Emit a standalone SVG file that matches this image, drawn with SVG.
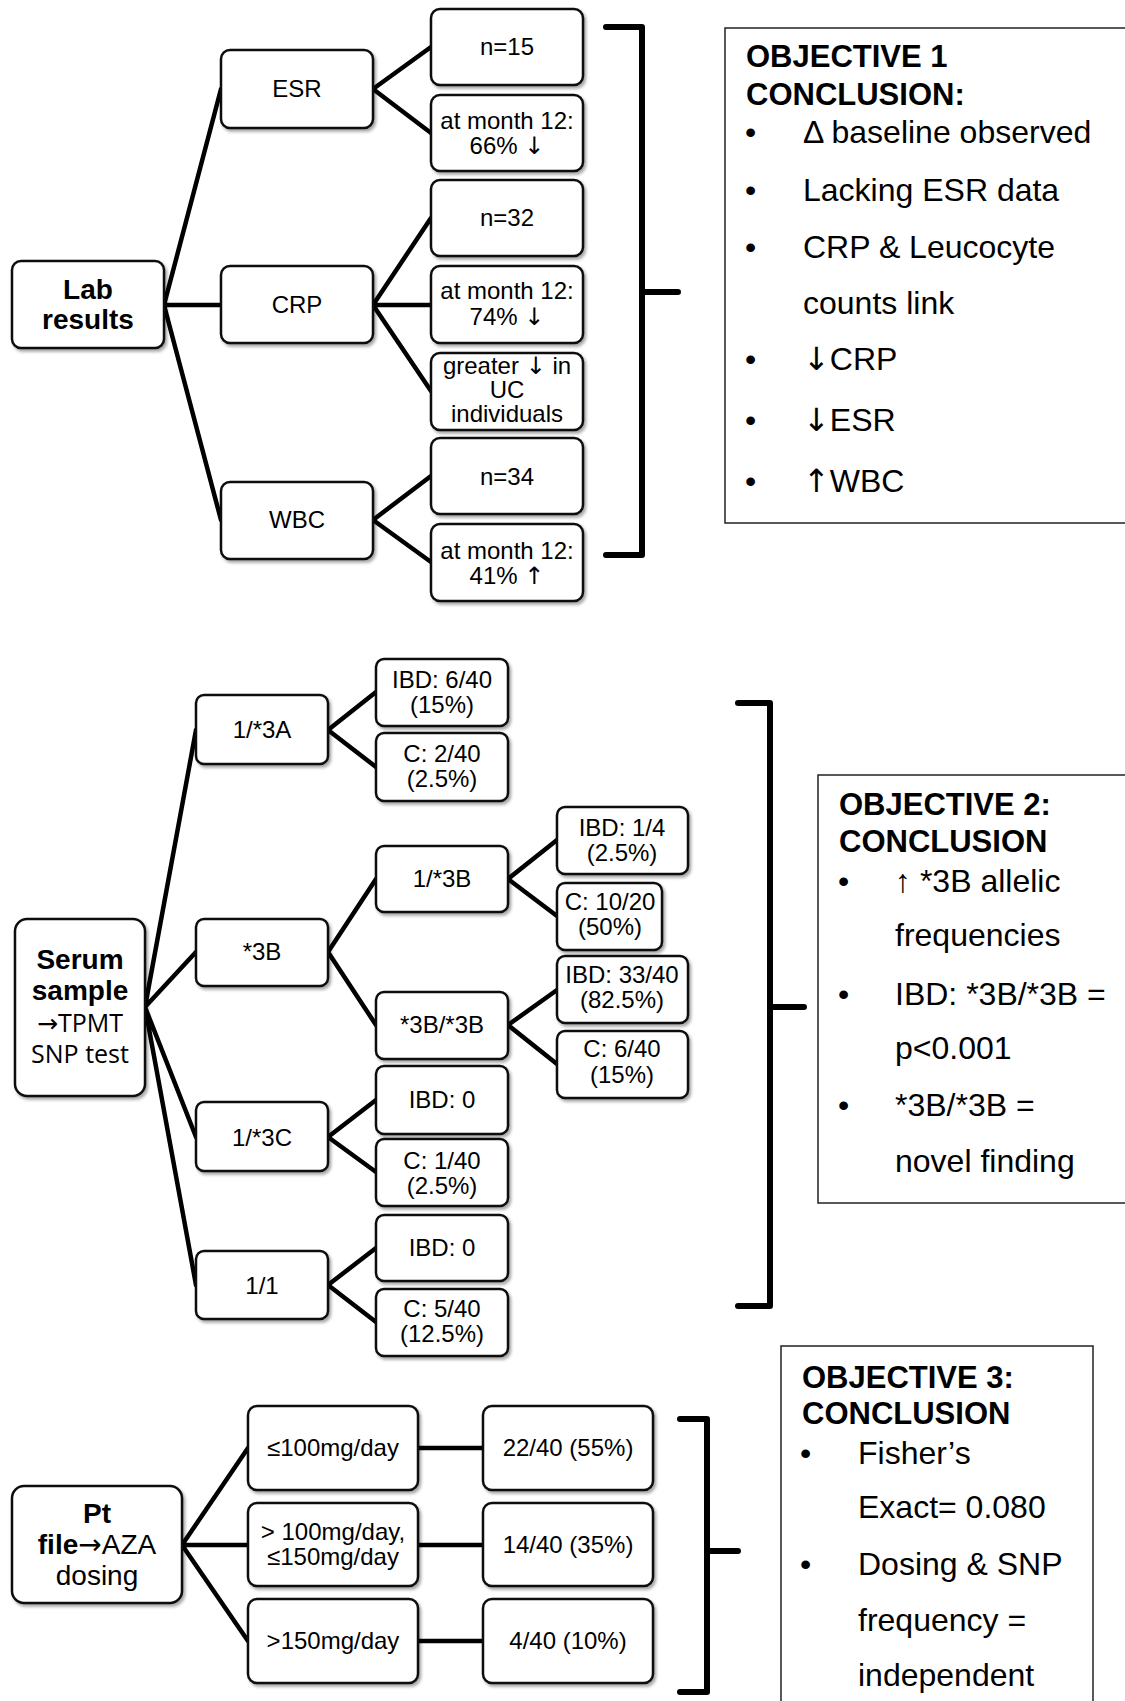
<svg xmlns="http://www.w3.org/2000/svg" width="1125" height="1701" viewBox="0 0 1125 1701">
<defs>
<filter id="sh" x="-10%" y="-10%" width="130%" height="130%">
<feDropShadow dx="2" dy="2.5" stdDeviation="1.5" flood-color="#000" flood-opacity="0.35"/>
</filter>
</defs>
<style>
.box{fill:#fff;stroke:#111;stroke-width:2.5;filter:url(#sh)}
.t{font-family:"Liberation Sans",Arial,sans-serif;font-size:24px;text-anchor:middle;fill:#000}
.b{font-weight:bold;font-size:28px}
.n{font-family:"Open Sans","Liberation Sans",sans-serif;font-size:25px}
.ar{font-family:"DejaVu Sans",sans-serif;font-weight:normal}
.c{fill:none;stroke:#000;stroke-width:4.5;stroke-linecap:round}
.br{fill:none;stroke:#000;stroke-width:6;stroke-linejoin:round;stroke-linecap:round}
.obj{fill:#fff;stroke:#222;stroke-width:1.5}
.ot{font-family:"Liberation Sans",Arial,sans-serif;font-size:32px;fill:#000}
.oh{font-weight:bold;font-size:31px}
</style>
<rect width="1125" height="1701" fill="#fff"/>

<g id="connectors">
<path class="c" d="M164,305 L221,89 M164,305 L221,305 M164,305 L221,520"/>
<path class="c" d="M373,89 L431,47 M373,89 L431,133"/>
<path class="c" d="M373,305 L431,218 M373,305 L431,305 M373,305 L431,391"/>
<path class="c" d="M373,520 L431,476 M373,520 L431,562"/>
<path class="c" d="M145,1007 L196,730 M145,1007 L196,952 M145,1007 L196,1137 M145,1007 L196,1285"/>
<path class="c" d="M328,730 L376,692 M328,730 L376,767"/>
<path class="c" d="M328,952 L376,879 M328,952 L376,1025"/>
<path class="c" d="M328,1137 L376,1100 M328,1137 L376,1172"/>
<path class="c" d="M328,1285 L376,1248 M328,1285 L376,1322"/>
<path class="c" d="M508,879 L557,840 M508,879 L557,916"/>
<path class="c" d="M508,1025 L557,990 M508,1025 L557,1064"/>
<path class="c" d="M182,1545 L248,1448 M182,1545 L248,1545 M182,1545 L248,1641"/>
<path class="c" d="M418,1448 L483,1448 M418,1545 L483,1545 M418,1641 L483,1641"/>
<path class="br" d="M606,27 L642,27 L642,555 L606,555 M642,292 L678,292"/>
<path class="br" d="M738,703 L770,703 L770,1306 L738,1306 M770,1007 L804,1007"/>
<path class="br" d="M680,1419 L707,1419 L707,1692 L680,1692 M707,1551 L738,1551"/>
</g>

<g id="lab"><rect class="box" x="12" y="261" width="152" height="87" rx="9"/><text class="t b" x="88" y="299">Lab</text><text class="t b" x="88" y="329">results</text></g>
<g id="esr"><rect class="box" x="221" y="50" width="152" height="78" rx="9"/><text class="t" x="297" y="97">ESR</text></g>
<g id="crp"><rect class="box" x="221" y="266" width="152" height="77" rx="9"/><text class="t" x="297" y="313">CRP</text></g>
<g id="wbc"><rect class="box" x="221" y="482" width="152" height="77" rx="9"/><text class="t" x="297" y="528">WBC</text></g>
<g id="esr-n"><rect class="box" x="431" y="9" width="152" height="76" rx="9"/><text class="t" x="507" y="55">n=15</text></g>
<g id="esr-m"><rect class="box" x="431" y="95" width="152" height="76" rx="9"/><text class="t" x="507" y="129">at month 12:</text><text class="t" x="507" y="154">66% <tspan class="ar">↓</tspan></text></g>
<g id="crp-n"><rect class="box" x="431" y="180" width="152" height="76" rx="9"/><text class="t" x="507" y="226">n=32</text></g>
<g id="crp-m"><rect class="box" x="431" y="266" width="152" height="77" rx="9"/><text class="t" x="507" y="299">at month 12:</text><text class="t" x="507" y="325">74% <tspan class="ar">↓</tspan></text></g>
<g id="crp-uc"><rect class="box" x="431" y="353" width="152" height="77" rx="9"/><text class="t" x="507" y="374">greater <tspan class="ar">↓</tspan> in</text><text class="t" x="507" y="398">UC</text><text class="t" x="507" y="422">individuals</text></g>
<g id="wbc-n"><rect class="box" x="431" y="438" width="152" height="76" rx="9"/><text class="t" x="507" y="485">n=34</text></g>
<g id="wbc-m"><rect class="box" x="431" y="524" width="152" height="77" rx="9"/><text class="t" x="507" y="559">at month 12:</text><text class="t" x="507" y="584">41% <tspan class="ar">↑</tspan></text></g>

<g id="obj1"><rect class="obj" x="725" y="28" width="410" height="495"/>
<text class="ot oh" x="746" y="67">OBJECTIVE 1</text><text class="ot oh" x="746" y="105">CONCLUSION:</text>
<text class="ot" x="745" y="143">•</text><text class="ot" x="803" y="143">Δ baseline observed</text>
<text class="ot" x="745" y="201">•</text><text class="ot" x="803" y="201">Lacking ESR data</text>
<text class="ot" x="745" y="258">•</text><text class="ot" x="803" y="258">CRP &amp; Leucocyte</text>
<text class="ot" x="803" y="314">counts link</text>
<text class="ot" x="745" y="370">•</text><text class="ot" x="803" y="370"><tspan class="ar">↓</tspan>CRP</text>
<text class="ot" x="745" y="431">•</text><text class="ot" x="803" y="431"><tspan class="ar">↓</tspan>ESR</text>
<text class="ot" x="745" y="492">•</text><text class="ot" x="803" y="492"><tspan class="ar">↑</tspan>WBC</text>
</g>

<g id="serum"><rect class="box" x="15" y="919" width="130" height="177" rx="12"/><text class="t b" x="80" y="969">Serum</text><text class="t b" x="80" y="1000">sample</text><text class="t n" x="80" y="1032"><tspan class="ar">→</tspan>TPMT</text><text class="t n" x="80" y="1063">SNP test</text></g>
<g id="g3A"><rect class="box" x="196" y="695" width="132" height="69" rx="8"/><text class="t" x="262" y="738">1/*3A</text></g>
<g id="g3B"><rect class="box" x="196" y="919" width="132" height="67" rx="8"/><text class="t" x="262" y="960">*3B</text></g>
<g id="g3C"><rect class="box" x="196" y="1102" width="132" height="69" rx="8"/><text class="t" x="262" y="1146">1/*3C</text></g>
<g id="g11"><rect class="box" x="196" y="1251" width="132" height="68" rx="8"/><text class="t" x="262" y="1294">1/1</text></g>
<g id="a-ibd"><rect class="box" x="376" y="659" width="132" height="67" rx="8"/><text class="t" x="442" y="688">IBD: 6/40</text><text class="t" x="442" y="713">(15%)</text></g>
<g id="a-c"><rect class="box" x="376" y="733" width="132" height="68" rx="8"/><text class="t" x="442" y="762">C: 2/40</text><text class="t" x="442" y="787">(2.5%)</text></g>
<g id="b-13B"><rect class="box" x="376" y="846" width="132" height="66" rx="8"/><text class="t" x="442" y="887">1/*3B</text></g>
<g id="b-3B3B"><rect class="box" x="376" y="992" width="132" height="67" rx="8"/><text class="t" x="442" y="1033">*3B/*3B</text></g>
<g id="c-ibd"><rect class="box" x="376" y="1066" width="132" height="68" rx="8"/><text class="t" x="442" y="1108">IBD: 0</text></g>
<g id="c-c"><rect class="box" x="376" y="1139" width="132" height="67" rx="8"/><text class="t" x="442" y="1169">C: 1/40</text><text class="t" x="442" y="1194">(2.5%)</text></g>
<g id="d-ibd"><rect class="box" x="376" y="1215" width="132" height="66" rx="8"/><text class="t" x="442" y="1256">IBD: 0</text></g>
<g id="d-c"><rect class="box" x="376" y="1289" width="132" height="67" rx="8"/><text class="t" x="442" y="1317">C: 5/40</text><text class="t" x="442" y="1342">(12.5%)</text></g>
<g id="b1-ibd"><rect class="box" x="557" y="807" width="131" height="67" rx="8"/><text class="t" x="622" y="836">IBD: 1/4</text><text class="t" x="622" y="861">(2.5%)</text></g>
<g id="b1-c"><rect class="box" x="557" y="883" width="105" height="67" rx="8"/><text class="t" x="610" y="910">C: 10/20</text><text class="t" x="610" y="935">(50%)</text></g>
<g id="b2-ibd"><rect class="box" x="557" y="956" width="131" height="67" rx="8"/><text class="t" x="622" y="983">IBD: 33/40</text><text class="t" x="622" y="1008">(82.5%)</text></g>
<g id="b2-c"><rect class="box" x="557" y="1031" width="131" height="67" rx="8"/><text class="t" x="622" y="1057">C: 6/40</text><text class="t" x="622" y="1083">(15%)</text></g>

<g id="obj2"><rect class="obj" x="818" y="775" width="320" height="428"/>
<text class="ot oh" x="839" y="815">OBJECTIVE 2:</text><text class="ot oh" x="839" y="852">CONCLUSION</text>
<text class="ot" x="838" y="892">•</text><text class="ot" x="895" y="892">↑ *3B allelic</text>
<text class="ot" x="895" y="946">frequencies</text>
<text class="ot" x="838" y="1005">•</text><text class="ot" x="895" y="1005">IBD: *3B/*3B =</text>
<text class="ot" x="895" y="1059">p&lt;0.001</text>
<text class="ot" x="838" y="1116">•</text><text class="ot" x="895" y="1116">*3B/*3B =</text>
<text class="ot" x="895" y="1172">novel finding</text>
</g>

<g id="pt"><rect class="box" x="12" y="1486" width="170" height="117" rx="12"/><text class="t b" x="97" y="1523">Pt</text><text class="t" x="97" y="1554" style="font-size:28px"><tspan font-weight="bold">file</tspan><tspan class="ar">→</tspan>AZA</text><text class="t" x="97" y="1585" style="font-size:28px">dosing</text></g>
<g id="dose1"><rect class="box" x="248" y="1406" width="170" height="84" rx="9"/><text class="t" x="333" y="1456">≤100mg/day</text></g>
<g id="dose2"><rect class="box" x="248" y="1503" width="170" height="83" rx="9"/><text class="t" x="333" y="1540">&gt; 100mg/day,</text><text class="t" x="333" y="1565">≤150mg/day</text></g>
<g id="dose3"><rect class="box" x="248" y="1599" width="170" height="84" rx="9"/><text class="t" x="333" y="1649">&gt;150mg/day</text></g>
<g id="res1"><rect class="box" x="483" y="1406" width="170" height="84" rx="9"/><text class="t" x="568" y="1456">22/40 (55%)</text></g>
<g id="res2"><rect class="box" x="483" y="1503" width="170" height="83" rx="9"/><text class="t" x="568" y="1553">14/40 (35%)</text></g>
<g id="res3"><rect class="box" x="483" y="1599" width="170" height="84" rx="9"/><text class="t" x="568" y="1649">4/40 (10%)</text></g>

<g id="obj3"><rect class="obj" x="781" y="1346" width="312" height="380"/>
<text class="ot oh" x="802" y="1388">OBJECTIVE 3:</text><text class="ot oh" x="802" y="1424">CONCLUSION</text>
<text class="ot" x="800" y="1464">•</text><text class="ot" x="858" y="1464">Fisher’s</text>
<text class="ot" x="858" y="1518">Exact= 0.080</text>
<text class="ot" x="800" y="1575">•</text><text class="ot" x="858" y="1575">Dosing &amp; SNP</text>
<text class="ot" x="858" y="1631">frequency =</text>
<text class="ot" x="858" y="1686">independent</text>
</g>
</svg>
